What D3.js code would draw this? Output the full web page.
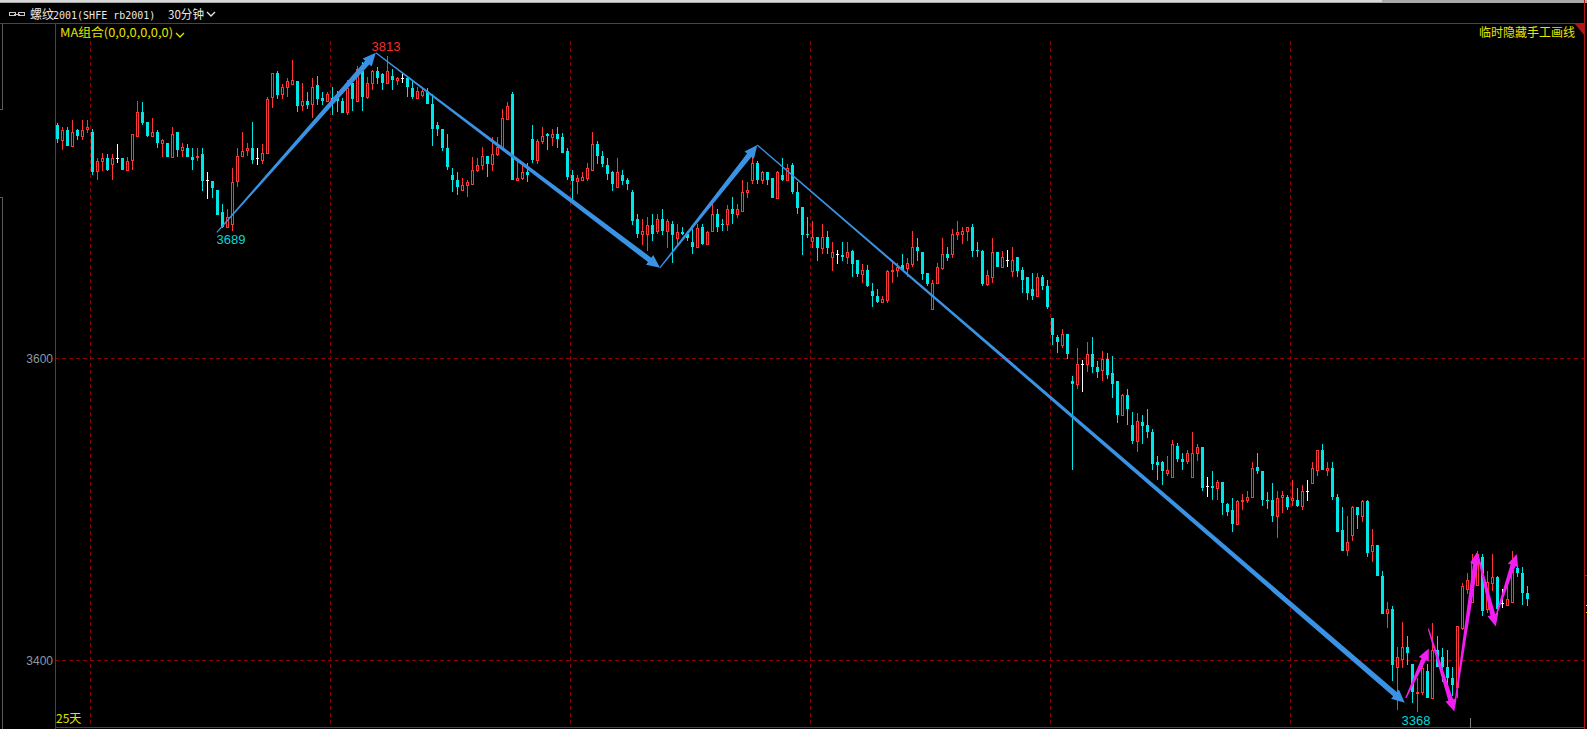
<!DOCTYPE html>
<html>
<head>
<meta charset="utf-8">
<title>螺纹2001 30分钟</title>
<script src="https://cdn.jsdelivr.net/npm/d3@7/dist/d3.min.js"></script>
<style>
html,body{margin:0;padding:0;background:#000;overflow:hidden}
svg{display:block}
</style>
</head>
<body>
<svg id="chart" width="1587" height="729"></svg>
<script>
const opens=[
3763,3752,3759,3748,3759,3755,3760,3758,3730,3737,
3739,3735,3739,3739,3731,3738,3755,3772,3765,3755,
3758,3750,3750,3740,3758,3745,3746,3740,3740,3742,
3724,3723,3717,3701,3691,3693,3723,3741,3745,3746,
3739,3738,3743,3783,3800,3785,3790,3792,3794,3777,
3780,3778,3791,3782,3780,3782,3782,3780,3772,3793,
3780,3801,3783,3793,3801,3799,3793,3798,3795,3796,
3796,3789,3782,3784,3787,3778,3763,3760,3746,3727,
3724,3717,3720,3721,3731,3734,3741,3735,3742,3747,
3767,3785,3724,3725,3729,3753,3738,3751,3756,3754,
3756,3754,3744,3727,3723,3724,3725,3731,3749,3741,
3734,3729,3719,3727,3724,3715,3696,3686,3686,3692,
3688,3696,3688,3693,3683,3687,3686,3680,3677,3691,
3679,3688,3700,3693,3693,3703,3700,3702,3715,3724,
3736,3724,3729,3725,3711,3727,3724,3734,3715,3705,
3686,3681,3684,3676,3684,3670,3672,3671,3670,3674,
3668,3658,3661,3646,3643,3639,3640,3660,3661,3664,
3662,3665,3677,3673,3659,3634,3652,3662,3672,3672,
3686,3686,3688,3691,3675,3674,3651,3656,3673,3663,
3668,3660,3670,3661,3656,3648,3643,3656,3650,3628,
3615,3609,3617,3585,3583,3596,3596,3603,3594,3592,
3600,3590,3585,3562,3575,3555,3544,3557,3555,3550,
3530,3530,3523,3520,3541,3532,3531,3520,3536,3540,
3514,3514,3513,3517,3502,3498,3489,3504,3505,3507,
3527,3524,3505,3505,3494,3507,3507,3505,3505,3501,
3511,3516,3525,3538,3525,3526,3507,3485,3472,3482,
3500,3494,3504,3471,3475,3455,3431,3433,3396,3401,
3409,3398,3379,3380,3393,3376,3407,3402,3396,3389,
3383,3421,3446,3438,3449,3467,3433,3450,3454,3437,
3436,3438,3460,3457,3444];
const closes=[
3753,3759,3748,3758,3755,3759,3761,3729,3737,3739,
3731,3739,3739,3731,3737,3756,3772,3764,3755,3758,
3750,3752,3740,3756,3745,3747,3740,3738,3741,3723,
3724,3718,3699,3691,3698,3722,3741,3744,3746,3738,
3739,3743,3781,3800,3784,3790,3794,3795,3776,3780,
3777,3790,3781,3780,3785,3780,3780,3771,3789,3781,
3803,3783,3793,3801,3796,3793,3801,3795,3796,3796,
3790,3783,3787,3787,3778,3760,3760,3746,3733,3724,
3719,3720,3722,3731,3734,3741,3735,3742,3747,3768,
3776,3724,3725,3729,3727,3738,3751,3755,3755,3756,
3753,3743,3726,3723,3725,3726,3732,3749,3741,3735,
3728,3721,3729,3723,3721,3695,3686,3688,3692,3686,
3696,3688,3695,3685,3687,3686,3683,3677,3690,3679,
3687,3700,3691,3692,3703,3700,3703,3715,3717,3736,
3724,3729,3724,3711,3729,3724,3732,3715,3704,3685,
3685,3684,3676,3684,3676,3673,3672,3670,3673,3665,
3658,3661,3650,3643,3639,3641,3660,3661,3663,3661,
3666,3677,3674,3658,3651,3652,3663,3672,3669,3686,
3687,3688,3691,3674,3674,3651,3657,3673,3663,3670,
3668,3668,3660,3654,3645,3643,3656,3650,3635,3616,
3611,3617,3603,3583,3596,3596,3603,3594,3591,3600,
3589,3583,3562,3575,3566,3544,3558,3554,3550,3529,
3528,3524,3525,3542,3532,3530,3536,3536,3540,3513,
3514,3513,3517,3503,3497,3489,3504,3505,3507,3526,
3524,3505,3504,3494,3506,3508,3500,3506,3501,3511,
3511,3526,3538,3525,3526,3507,3484,3471,3477,3500,
3495,3504,3470,3475,3455,3430,3433,3397,3402,3409,
3405,3380,3380,3395,3376,3407,3396,3396,3389,3384,
3422,3448,3452,3463,3469,3432,3451,3454,3433,3437,
3440,3462,3457,3444,3440];
const highs=[
3764,3761,3761,3766,3760,3766,3766,3760,3739,3743,
3742,3742,3749,3739,3740,3756,3780,3779,3765,3768,
3759,3753,3750,3761,3758,3750,3749,3746,3746,3746,
3729,3723,3717,3707,3703,3732,3746,3758,3750,3765,
3746,3749,3783,3800,3801,3792,3796,3809,3794,3793,
3786,3796,3798,3786,3786,3790,3787,3782,3795,3793,
3805,3808,3797,3802,3804,3800,3812,3803,3797,3800,
3797,3794,3790,3789,3789,3785,3765,3760,3756,3732,
3729,3725,3724,3740,3739,3747,3741,3754,3754,3774,
3779,3786,3738,3735,3736,3763,3753,3761,3757,3760,
3761,3757,3746,3731,3727,3729,3736,3758,3751,3744,
3739,3730,3739,3731,3725,3717,3700,3696,3698,3700,
3700,3703,3696,3695,3693,3691,3688,3689,3693,3693,
3688,3707,3703,3696,3706,3712,3707,3724,3722,3742,
3737,3730,3729,3725,3730,3739,3735,3736,3722,3705,
3698,3695,3684,3693,3688,3680,3675,3680,3680,3675,
3668,3665,3664,3652,3648,3643,3661,3668,3666,3672,
3669,3688,3683,3673,3659,3654,3666,3683,3677,3689,
3695,3691,3691,3693,3680,3675,3661,3683,3673,3674,
3675,3677,3670,3663,3656,3659,3659,3657,3654,3628,
3616,3620,3617,3588,3607,3599,3611,3615,3598,3605,
3604,3602,3585,3576,3579,3564,3563,3562,3566,3552,
3534,3531,3534,3545,3543,3536,3538,3550,3542,3540,
3520,3524,3518,3517,3503,3506,3505,3509,3511,3530,
3536,3524,3510,3516,3511,3511,3508,3518,3513,3515,
3518,3530,3538,3542,3530,3530,3509,3500,3494,3501,
3500,3505,3505,3486,3475,3458,3438,3435,3409,3425,
3416,3398,3389,3397,3398,3424,3416,3408,3407,3396,
3422,3450,3457,3469,3471,3469,3458,3469,3455,3446,
3448,3471,3461,3461,3448];
const lows=[
3750,3745,3748,3748,3752,3752,3757,3727,3724,3730,
3730,3724,3736,3731,3730,3731,3755,3763,3754,3755,
3746,3740,3740,3740,3740,3740,3740,3731,3737,3716,
3710,3711,3699,3690,3691,3688,3719,3740,3741,3735,
3734,3735,3743,3775,3781,3781,3783,3791,3772,3773,
3774,3768,3777,3777,3780,3770,3772,3771,3770,3773,
3779,3773,3781,3788,3792,3788,3792,3788,3791,3793,
3783,3781,3781,3783,3778,3748,3755,3744,3731,3715,
3713,3716,3712,3721,3729,3731,3726,3730,3741,3746,
3766,3724,3723,3724,3722,3736,3735,3749,3745,3748,
3746,3743,3724,3710,3714,3723,3723,3731,3735,3733,
3724,3716,3718,3720,3717,3692,3683,3678,3674,3681,
3686,3685,3676,3666,3678,3685,3681,3672,3676,3678,
3679,3688,3687,3688,3688,3693,3697,3701,3711,3721,
3721,3721,3720,3711,3711,3723,3723,3714,3700,3671,
3683,3676,3667,3672,3672,3660,3665,3667,3665,3656,
3656,3652,3649,3635,3638,3638,3638,3652,3656,3660,
3656,3663,3667,3654,3650,3633,3651,3661,3667,3669,
3682,3679,3681,3670,3670,3650,3650,3652,3663,3663,
3663,3656,3656,3645,3640,3640,3643,3647,3634,3609,
3604,3607,3600,3525,3579,3577,3591,3590,3587,3585,
3586,3573,3556,3561,3555,3542,3537,3542,3546,3525,
3518,3515,3521,3520,3530,3525,3529,3520,3531,3511,
3507,3505,3505,3495,3494,3484,3488,3498,3503,3507,
3522,3501,3499,3490,3480,3496,3498,3501,3500,3498,
3504,3516,3521,3525,3521,3505,3484,3471,3468,3478,
3486,3490,3467,3464,3455,3430,3421,3387,3368,3395,
3397,3373,3367,3378,3376,3376,3396,3386,3385,3377,
3376,3420,3443,3438,3448,3429,3431,3445,3430,3434,
3436,3438,3454,3436,3435];

const priceTicks=[3600,3400];
const dayBreaks=[6.6,54.6,102.6,150.6,198.6,246.6];
const blueWaves=[
  {from:[31.9,3686.9],to:[63.7,3814.4]},
  {from:[63.7,3814.4],to:[120.54,3662.4]},
  {from:[120.54,3662.4],to:[140,3748.4]},
  {from:[140,3748.4],to:[269.5,3373]}
];
const magentaWaves=[
  {from:[269.7,3376],to:[274.3,3407.8]},
  {from:[274.2,3420.6],to:[279.4,3367.4]},
  {from:[279.4,3369.3],to:[284,3470.7]},
  {from:[284,3469.9],to:[287.7,3422]},
  {from:[287.7,3428.6],to:[291.9,3469.2]}
];
const extremes=[
  {text:"3689",i:34.7,p:3679,cls:"low"},
  {text:"3813",i:65.7,p:3815.4,cls:"high"},
  {text:"3368",i:271.7,p:3359,cls:"low"}
];
const titleMain="螺纹2001(SHFE rb2001)";
const titlePeriod="30分钟";
const maLabel="MA组合(0,0,0,0,0,0)";
const hideLabel="临时隐藏手工画线";
const daysLabel="25天";

const W=1587,H=729;
const FRAME="#b01818",GRID="#8c0000",RED="#ff3636",CYAN="#00e6e6",YEL="#e4e400",BLUE="#3a92e4",MAG="#f01ef0";
const plot={l:55,r:1584,t:23,b:727};

const svg=d3.select("#chart");
const x=d3.scaleLinear().domain([0,294]).range([57.5,1527.5]);
const y=d3.scaleLog().domain([3400,3600]).range([660.5,358.5]);
const cjk='"Noto Sans CJK SC","Liberation Sans",sans-serif';
const latin='"Liberation Sans","Noto Sans",sans-serif';

svg.append("rect").attr("width",W).attr("height",H).attr("fill","#000");

// window chrome
svg.append("rect").attr("x",0).attr("y",0).attr("width",W).attr("height",3).attr("fill","#a8a8a8");
svg.append("rect").attr("x",0).attr("y",0).attr("width",1382).attr("height",2).attr("fill","#d8d8d8");
const chrome=svg.append("g").attr("fill","none").attr("stroke","#5a5a5a").attr("shape-rendering","crispEdges");
chrome.append("path").attr("d","M0.5,23.5H2.5V109.5H0");
chrome.append("path").attr("d","M0,197.5H2.5V729");
// link icon
const icon=svg.append("g").attr("fill","none").attr("stroke","#c8c8c8").attr("shape-rendering","crispEdges");
icon.append("rect").attr("x",9.5).attr("y",12.5).attr("width",6).attr("height",3);
icon.append("rect").attr("x",18.5).attr("y",12.5).attr("width",6).attr("height",3);
icon.append("path").attr("d","M14,14.5H20");

// grid
const grid=svg.append("g").attr("stroke",GRID).attr("stroke-dasharray","4,3").attr("shape-rendering","crispEdges");
grid.selectAll("line.h").data(priceTicks).join("line").attr("class","h")
  .attr("x1",plot.l).attr("x2",plot.r).attr("y1",d=>Math.floor(y(d))+.5).attr("y2",d=>Math.floor(y(d))+.5);
grid.selectAll("line.v").data(dayBreaks).join("line").attr("class","v")
  .attr("x1",d=>Math.floor(x(d))+.5).attr("x2",d=>Math.floor(x(d))+.5).attr("y1",41).attr("y2",plot.b);

// candles
const candles=d3.range(opens.length).map(i=>({i,o:opens[i],c:closes[i],h:highs[i],l:lows[i]}));
const col=d=>d.c>d.o?RED:d.c<d.o?CYAN:"#ffffff";
const cg=svg.append("g").attr("shape-rendering","crispEdges");
const cx=d=>Math.floor(x(d.i));
cg.selectAll("rect.wick").data(candles).join("rect").attr("class","wick")
  .attr("x",cx).attr("width",1)
  .attr("y",d=>Math.round(y(d.h))).attr("height",d=>Math.max(1,Math.round(y(d.l))-Math.round(y(d.h))))
  .attr("fill",col);
cg.selectAll("rect.up").data(candles.filter(d=>d.c>d.o)).join("rect").attr("class","up")
  .attr("x",d=>cx(d)-0.5).attr("width",2)
  .attr("y",d=>Math.round(y(d.c))+.5).attr("height",d=>Math.max(1,Math.round(y(d.o))-Math.round(y(d.c))))
  .attr("fill","#000").attr("stroke",RED).attr("stroke-width",1);
cg.selectAll("rect.down").data(candles.filter(d=>d.c<d.o)).join("rect").attr("class","down")
  .attr("x",d=>cx(d)-1).attr("width",3)
  .attr("y",d=>Math.round(y(d.o))).attr("height",d=>Math.max(1,Math.round(y(d.c))-Math.round(y(d.o))))
  .attr("fill",CYAN);
cg.selectAll("rect.doji").data(candles.filter(d=>d.c===d.o)).join("rect").attr("class","doji")
  .attr("x",d=>cx(d)-1).attr("width",3)
  .attr("y",d=>Math.round(y(d.c))).attr("height",1)
  .attr("fill","#fff");

// frame
const frame=svg.append("g").attr("stroke",FRAME).attr("shape-rendering","crispEdges");
frame.append("line").attr("x1",0).attr("x2",plot.r).attr("y1",23.5).attr("y2",23.5);
frame.append("line").attr("x1",55.5).attr("x2",55.5).attr("y1",23).attr("y2",H);
frame.append("line").attr("x1",1584.5).attr("x2",1584.5).attr("y1",0).attr("y2",H);
frame.append("line").attr("x1",55).attr("x2",plot.r).attr("y1",727.5).attr("y2",727.5);
frame.append("line").attr("x1",1584).attr("x2",W).attr("y1",575.5).attr("y2",575.5);
svg.append("path").attr("d","M1575,24H1584V35Z").attr("fill",FRAME);
svg.append("rect").attr("x",1470).attr("y",718).attr("width",1).attr("height",10).attr("fill","#808080");
svg.append("rect").attr("x",1586).attr("y",605).attr("width",1).attr("height",1).attr("fill",YEL);
svg.append("rect").attr("x",1586).attr("y",612).attr("width",1).attr("height",1).attr("fill",YEL);

// tapered arrows
function arrowPath(w,w0,w1,headLen,headW){
  const a=[x(w.from[0])-.2,y(w.from[1])],b=[x(w.to[0])-.2,y(w.to[1])];
  const dx=b[0]-a[0],dy=b[1]-a[1],len=Math.hypot(dx,dy),ux=dx/len,uy=dy/len,nx=-uy,ny=ux;
  const n=[b[0]-ux*headLen,b[1]-uy*headLen];
  const P=(p,s)=>[p[0]+nx*s,p[1]+ny*s];
  return d3.line()([P(a,w0/2),P(n,w1/2),P(n,headW/2),b,P(n,-headW/2),P(n,-w1/2),P(a,-w0/2)])+"Z";
}
svg.append("g").selectAll("path").data(blueWaves).join("path")
  .attr("d",d=>arrowPath(d,1.2,5.5,13,12)).attr("fill",BLUE);
svg.append("g").selectAll("path").data(magentaWaves).join("path")
  .attr("d",d=>arrowPath(d,1.2,5,12,11)).attr("fill",MAG);

// axis labels
const axis=d3.axisLeft(y).tickValues(priceTicks).tickSize(0).tickPadding(2).tickFormat(d3.format("d"));
const ag=svg.append("g").attr("transform","translate(55,0)").call(axis);
ag.select(".domain").remove();
ag.selectAll("text").attr("fill","#8a98a6").attr("font-family",latin).attr("font-size",12).attr("dy","0.34em");

// texts
const txt=(s,px,py,fill,size,fam,anchor)=>svg.append("text").text(s).attr("x",px).attr("y",py)
  .attr("fill",fill).attr("font-size",size).attr("font-family",fam).attr("text-anchor",anchor||"start");
txt(titleMain.slice(0,2),30,18.5,"#e8e8e8",12,cjk);
txt(titleMain.slice(2),53,18.5,"#e8e8e8",10,'"DejaVu Sans Mono",monospace');
txt(titlePeriod,168,18.5,"#e8e8e8",12,cjk)
  .attr("textLength",36).attr("lengthAdjust","spacingAndGlyphs");
const chev=(px,py,c)=>svg.append("path").attr("d",`M${px},${py}l4,4l4,-4`).attr("fill","none").attr("stroke",c).attr("stroke-width",1.3);
chev(207,12,"#e8e8e8");
txt(maLabel,60,36.5,YEL,12,cjk).attr("textLength",113).attr("lengthAdjust","spacingAndGlyphs");
chev(176,33,YEL);
txt(hideLabel,1479,36.5,YEL,12,cjk);
txt(daysLabel,56,722.5,YEL,12,cjk);

svg.append("g").selectAll("text").data(extremes).join("text")
  .text(d=>d.text).attr("x",d=>x(d.i)).attr("y",d=>y(d.p))
  .attr("text-anchor","middle").attr("font-size",13).attr("font-family",latin)
  .attr("fill",d=>d.cls==="high"?"#f03030":"#00d8d8");
</script>
</body>
</html>
